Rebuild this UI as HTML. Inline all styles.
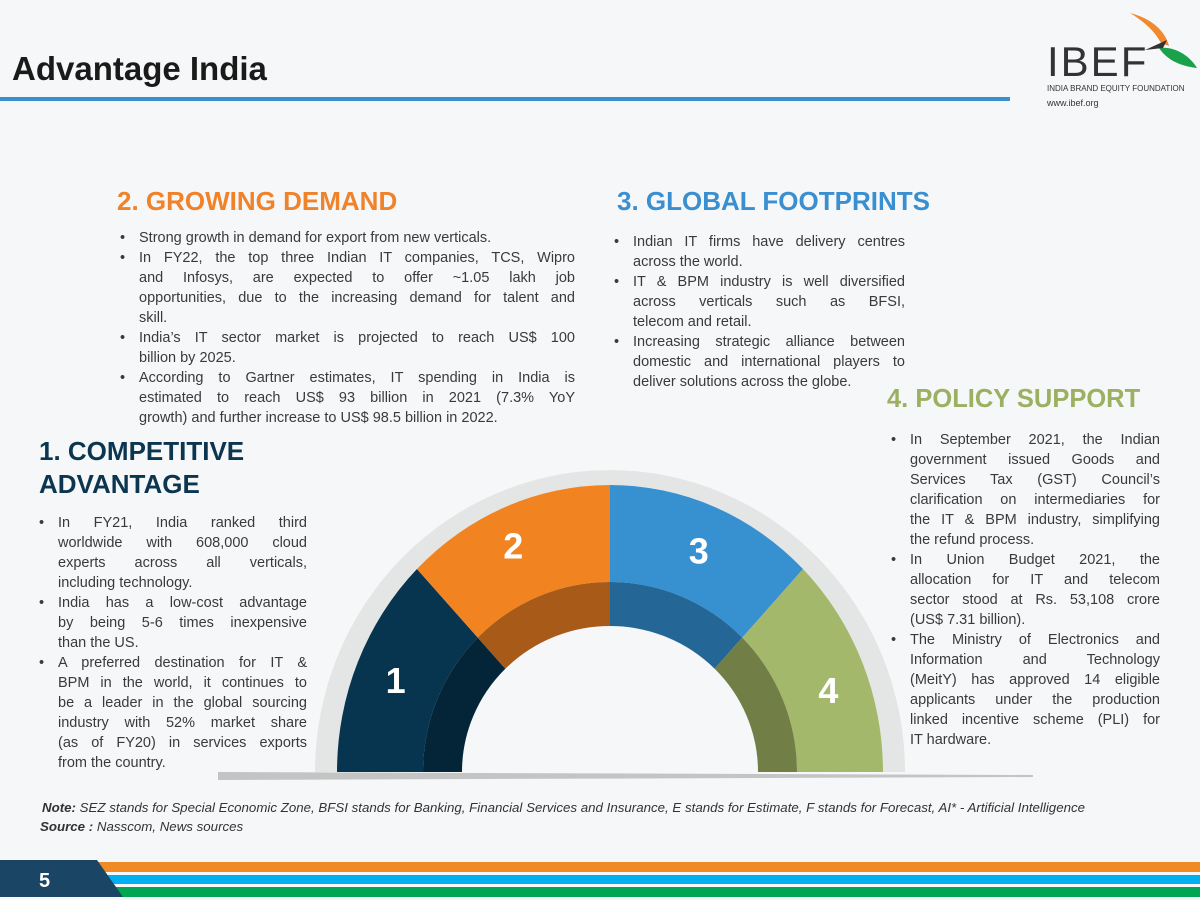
<!DOCTYPE html>
<html><head><meta charset="utf-8">
<style>
*{margin:0;padding:0;box-sizing:border-box}
body{width:1200px;height:900px;background:#f5f7f8;position:relative;overflow:hidden;font-family:"Liberation Sans",Arial,sans-serif;color:#404040}
.abs{position:absolute}
h1{position:absolute;left:12px;top:50px;font-size:33px;font-weight:bold;color:#1a1a1a}
.title{position:absolute;font-size:26px;font-weight:bold;line-height:33px}
.txt{position:absolute;font-size:14.5px;line-height:20px;color:#3a3a3a}
.txt .b{position:relative;padding-left:21px}
.txt .b::before{content:"•";position:absolute;left:2px;top:0}
.txt span{display:block;text-align:justify;text-align-last:justify;white-space:nowrap}
.txt span.l{text-align-last:left}
</style></head><body>
<h1>Advantage India</h1>
<div class="abs" style="left:0;top:97px;width:1010px;height:4px;background:#3a8fd0"></div>

<div class="abs" style="left:1045px;top:10px;width:155px;height:110px">
<svg width="155" height="70" style="position:absolute;left:0;top:0">
<path d="M85 3 C105 8 120 20 124 36 L116 33 C110 22 100 12 85 3Z" fill="#f08a30"/>
<path d="M114 38 C130 36 145 46 152 58 C135 56 122 50 114 38Z" fill="#1aa14a"/>
<path d="M100 40 L122 30 L118 38Z" fill="#333"/>
</svg>
<div class="abs" style="left:2px;top:28px;font-size:42px;letter-spacing:2px;color:#333">IBEF</div>
<div class="abs" style="left:2px;top:74px;font-size:8px;color:#333;white-space:nowrap">INDIA BRAND EQUITY FOUNDATION</div>
<div class="abs" style="left:2px;top:88px;font-size:9px;color:#333">www.ibef.org</div>
</div>

<div class="title" style="left:117px;top:185px;color:#f0822a">2. GROWING DEMAND</div>
<div class="txt" style="left:118px;top:228px;width:457px">
<div class="b"><span class="l">Strong growth in demand for export from new verticals.</span></div>
<div class="b"><span>In FY22, the top three Indian IT companies, TCS, Wipro</span><span>and Infosys, are expected to offer ~1.05 lakh job</span><span>opportunities, due to the increasing demand for talent and</span><span class="l">skill.</span></div>
<div class="b"><span>India’s IT sector market is projected to reach US$ 100</span><span class="l">billion by 2025.</span></div>
<div class="b"><span>According to Gartner estimates, IT spending in India is</span><span>estimated to reach US$ 93 billion in 2021 (7.3% YoY</span><span class="l">growth) and further increase to US$ 98.5 billion in 2022.</span></div>
</div>

<div class="title" style="left:617px;top:185px;color:#3a8fd0">3. GLOBAL FOOTPRINTS</div>
<div class="txt" style="left:612px;top:232px;width:293px">
<div class="b"><span>Indian IT firms have delivery centres</span><span class="l">across the world.</span></div>
<div class="b"><span>IT &amp; BPM industry is well diversified</span><span>across verticals such as BFSI,</span><span class="l">telecom and retail.</span></div>
<div class="b"><span>Increasing strategic alliance between</span><span>domestic and international players to</span><span class="l">deliver solutions across the globe.</span></div>
</div>

<div class="title" style="left:887px;top:383px;color:#9bb060;font-size:25.5px">4. POLICY SUPPORT</div>
<div class="txt" style="left:889px;top:430px;width:271px">
<div class="b"><span>In September 2021, the Indian</span><span>government issued Goods and</span><span>Services Tax (GST) Council’s</span><span>clarification on intermediaries for</span><span>the IT &amp; BPM industry, simplifying</span><span class="l">the refund process.</span></div>
<div class="b"><span>In Union Budget 2021, the</span><span>allocation for IT and telecom</span><span>sector stood at Rs. 53,108 crore</span><span class="l">(US$ 7.31 billion).</span></div>
<div class="b"><span>The Ministry of Electronics and</span><span>Information and Technology</span><span>(MeitY) has approved 14 eligible</span><span>applicants under the production</span><span>linked incentive scheme (PLI) for</span><span class="l">IT hardware.</span></div>
</div>

<div class="title" style="left:39px;top:435px;color:#0c3550">1. COMPETITIVE<br>ADVANTAGE</div>
<div class="txt" style="left:37px;top:513px;width:270px">
<div class="b"><span>In FY21, India ranked third</span><span>worldwide with 608,000 cloud</span><span>experts across all verticals,</span><span class="l">including technology.</span></div>
<div class="b"><span>India has a low-cost advantage</span><span>by being 5-6 times inexpensive</span><span class="l">than the US.</span></div>
<div class="b"><span>A preferred destination for IT &amp;</span><span>BPM in the world, it continues to</span><span>be a leader in the global sourcing</span><span>industry with 52% market share</span><span>(as of FY20) in services exports</span><span class="l">from the country.</span></div>
</div>

<svg id="arch" class="abs" style="left:0;top:0" width="1200" height="900"></svg>

<div class="abs" style="left:42px;top:800px;font-size:13.3px;font-style:italic;color:#333;white-space:nowrap"><b>Note:</b> SEZ stands for Special Economic Zone, BFSI stands for Banking, Financial Services and Insurance, E stands for Estimate, F stands for Forecast, AI* - Artificial Intelligence</div>
<div class="abs" style="left:40px;top:819px;font-size:13.3px;font-style:italic;color:#333"><b>Source :</b> Nasscom, News sources</div>

<svg class="abs" style="left:0;top:855px" width="1200" height="45">
<rect x="95" y="7" width="1105" height="10" fill="#f08a25"/>
<rect x="95" y="20" width="1105" height="9" fill="#00b0f0"/>
<rect x="95" y="32" width="1105" height="10" fill="#00a651"/>
<polygon points="0,5 97,5 123,42 0,42" fill="#1b4565"/>
<text x="39" y="32" font-size="20" font-weight="bold" fill="#fff" font-family="Liberation Sans">5</text>
</svg>

<script>
const labels=["1","2","3","4"];
const values=[1,1,1,1];
const outerColors=["#07344f","#f18420","#3790d0","#a3b86a"];
const innerColors=["#042538","#a85a18","#246796","#717f47"];
const svg=document.getElementById('arch');
const NS="http://www.w3.org/2000/svg";
const cx=610,cy=772;
function pt(rx,ry,a){return [cx+rx*Math.cos(a),cy-ry*Math.sin(a)];}
function band(r1x,r1y,r2x,r2y,a0,a1,fill){
 const p1=pt(r1x,r1y,a0),p2=pt(r1x,r1y,a1),p3=pt(r2x,r2y,a1),p4=pt(r2x,r2y,a0);
 const p=document.createElementNS(NS,'path');
 p.setAttribute('d',`M${p1} A${r1x},${r1y} 0 0 0 ${p2} L${p3} A${r2x},${r2y} 0 0 1 ${p4}Z`);
 p.setAttribute('fill',fill);svg.appendChild(p);return p;}
const base=document.createElementNS(NS,'polygon');
base.setAttribute('points','218,772 1033,775 1033,777 218,780');base.setAttribute('fill','#c4c4c4');


svg.appendChild(base);
const g=band(295,302,273,287,0,Math.PI,'#e4e5e5');


const total=values.reduce((a,b)=>a+b,0);
let acc=0;
values.forEach((v,i)=>{
 const a0=Math.PI-acc/total*Math.PI;acc+=v;const a1=Math.PI-acc/total*Math.PI;
 const o=band(273,287,187,190,a1,a0,outerColors[i]);
 
 
 const n=band(187,190,148,146,a1,a0,innerColors[i]);
 
 
 const m=(a0+a1)/2;const tp=pt(232,240,m);
 const t=document.createElementNS(NS,'text');
 t.setAttribute('x',tp[0]-(i===1?8:(i===3?-4:0)));t.setAttribute('y',tp[1]+13+(i===3?10:(i===1?-5:0)));
 t.setAttribute('text-anchor','middle');t.setAttribute('fill','#fff');
 t.setAttribute('font-size','36');t.setAttribute('font-weight','bold');
 t.setAttribute('font-family','Liberation Sans');
 
 
 t.textContent=labels[i];svg.appendChild(t);
});
</script>
</body></html>
